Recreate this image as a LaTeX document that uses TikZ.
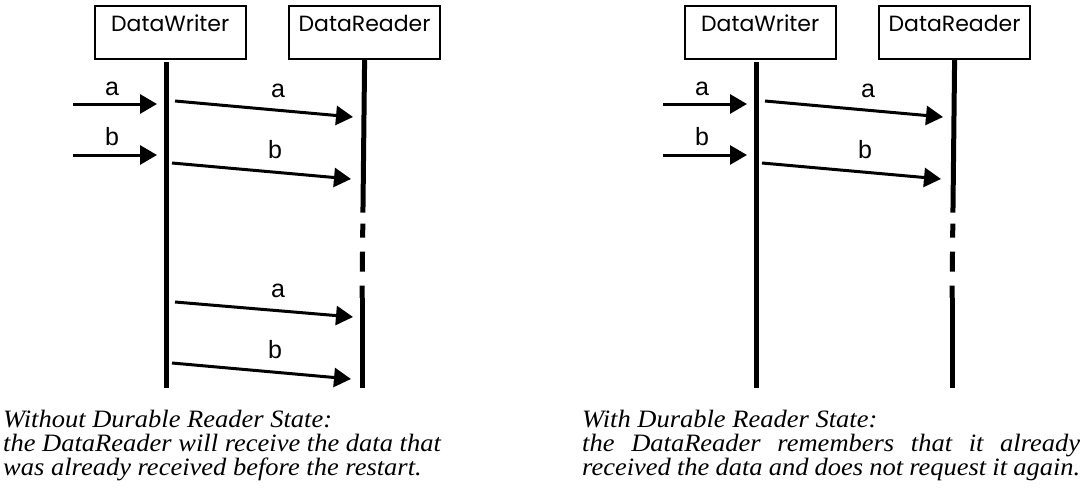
\documentclass[tikz,border=0pt]{standalone}
\usepackage{fontspec}
\usetikzlibrary{arrows.meta,positioning}
\newfontfamily\lblfont{Liberation Sans}
\newfontfamily\boxfamily{Poppins}
\newfontfamily\captfamily[FakeStretch=1.06]{Liberation Serif}
\newcommand{\boxfont}{\boxfamily\fontsize{22}{24}\selectfont}
\newcommand{\captfont}{\captfamily\itshape\fontsize{25}{24}\selectfont}

\begin{document}
\begin{tikzpicture}[
    x=1pt, y=-1pt,
    ent/.style={draw, line width=1.7pt, minimum width=151pt, inner sep=0pt,
                text height=26pt, text depth=27pt, font=\boxfont},
    life/.style={line width=5pt},
    msg/.style={-{Triangle[length=17pt, width=19pt]}, line width=3pt},
    lbl/.style={anchor=base, inner sep=0pt, font=\lblfont\fontsize{25}{25}\selectfont},
    capt/.style={anchor=north west, inner sep=0pt, font=\captfont},
    dashlife/.style={life, dash pattern=on 153pt off 11pt on 14pt off 14pt on 20pt off 14pt on 13pt off 100pt}
]
    \useasboundingbox (0,0) rectangle (1083,487);

    % without durable reader state
    \node[ent, anchor=north west] (wtrL) at (93.85,4.85) {DataWriter};
    \node[ent, right=41.7pt of wtrL] (rdrL) {DataReader};
    \coordinate (wLtop) at (166,62);
    \coordinate (wLbot) at (166,388);
    \coordinate (rLcut) at (362,298);
    \coordinate (rLbot) at (362,388);
    \draw[life] (wLtop) -- (wLbot);
    \draw[dashlife] (rdrL.south) -- (rLcut);
    \draw[life] (rLcut) -- (rLbot);

    \coordinate (inaL) at (73,104);  \coordinate (wiaL) at (157,104);
    \coordinate (inbL) at (73,155);  \coordinate (wibL) at (157,155);
    \coordinate (woaL) at (175,101); \coordinate (raL) at (353,117);
    \coordinate (wobL) at (172,163); \coordinate (rbL) at (351,179);
    \coordinate (wocL) at (175,302); \coordinate (rcL) at (353,317);
    \coordinate (wodL) at (172,363); \coordinate (rdL) at (351,379);
    \draw[msg] (inaL) -- (wiaL);
    \draw[msg] (inbL) -- (wibL);
    \draw[msg] (woaL) -- (raL);
    \draw[msg] (wobL) -- (rbL);
    \draw[msg] (wocL) -- (rcL);
    \draw[msg] (wodL) -- (rdL);
    \node[lbl] (la1L) at (112,95) {a};
    \node[lbl] (lb1L) at (112,145) {b};
    \node[lbl] (la2L) at (278,97) {a};
    \node[lbl] (lb2L) at (275,158) {b};
    \node[lbl] (la3L) at (278,297) {a};
    \node[lbl] (lb3L) at (275,358) {b};

    \node[capt, align=left] (capL) at (3,410)
        {Without Durable Reader State:\\the DataReader will receive the data that\\was already received before the restart.};

    % with durable reader state
    \begin{scope}[xshift=590pt]
    \node[ent, anchor=north west] (wtrR) at (93.85,4.85) {DataWriter};
    \node[ent, right=41.7pt of wtrR] (rdrR) {DataReader};
    \coordinate (wRtop) at (166,62);
    \coordinate (wRbot) at (166,388);
    \coordinate (rRcut) at (362,298);
    \coordinate (rRbot) at (362,388);
    \draw[life] (wRtop) -- (wRbot);
    \draw[dashlife] (rdrR.south) -- (rRcut);
    \draw[life] (rRcut) -- (rRbot);

    \coordinate (inaR) at (73,104);  \coordinate (wiaR) at (157,104);
    \coordinate (inbR) at (73,155);  \coordinate (wibR) at (157,155);
    \coordinate (woaR) at (175,101); \coordinate (raR) at (353,117);
    \coordinate (wobR) at (172,163); \coordinate (rbR) at (351,179);
    \draw[msg] (inaR) -- (wiaR);
    \draw[msg] (inbR) -- (wibR);
    \draw[msg] (woaR) -- (raR);
    \draw[msg] (wobR) -- (rbR);
    \node[lbl] (la1R) at (112,95) {a};
    \node[lbl] (lb1R) at (112,145) {b};
    \node[lbl] (la2R) at (278,97) {a};
    \node[lbl] (lb2R) at (275,158) {b};

    \node[capt, text width=498pt, align=justify] (capR) at (-8,410)
        {With Durable Reader State:\\the DataReader remembers that it already\linebreak received the data and does not request it again.};
    \end{scope}
\end{tikzpicture}
\end{document}
